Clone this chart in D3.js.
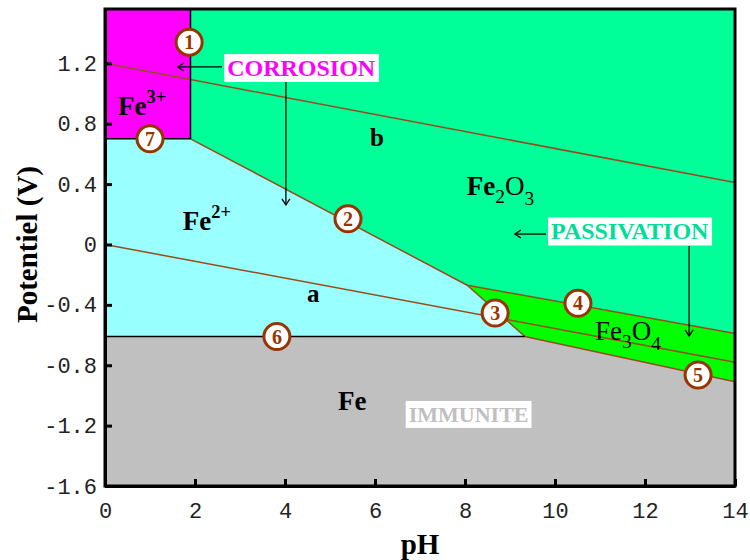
<!DOCTYPE html>
<html>
<head>
<meta charset="utf-8">
<script src="https://cdn.jsdelivr.net/npm/d3@7"></script>
<style>
  html, body { margin: 0; padding: 0; background: #ffffff; }
  svg { display: block; }
</style>
</head>
<body>
<svg id="chart" width="750" height="560"></svg>
<script>
// Pourbaix (potential–pH) diagram of iron in water

const phTicks = [0, 2, 4, 6, 8, 10, 12, 14];
const potentialTicks = [-1.6, -1.2, -0.8, -0.4, 0, 0.4, 0.8, 1.2];
const phDomain = [0, 14];
const potentialDomain = [-1.6, 1.56];

// Stability domains: [pH, E(V)] vertices
const fe3Region   = [[0, 1.56], [1.9, 1.56], [1.9, 0.70], [0, 0.70]];
const fe2o3Region = [[1.9, 1.56], [14, 1.56], [14, -0.59], [8.05, -0.27], [1.9, 0.70]];
const fe2Region   = [[0, 0.70], [1.9, 0.70], [8.05, -0.27], [9.33, -0.61], [0, -0.61]];
const fe3o4Region = [[8.05, -0.27], [14, -0.59], [14, -0.91], [9.33, -0.61]];
const feRegion    = [[0, -0.61], [9.33, -0.61], [14, -0.91], [14, -1.6], [0, -1.6]];

// Equilibrium boundaries
const line1 = [[1.9, 1.56], [1.9, 0.70]];                 // Fe3+ / Fe2O3
const line2 = [[1.9, 0.70], [8.05, -0.27]];               // Fe2O3 / Fe2+
const line3 = [[8.05, -0.27], [9.33, -0.61]];             // Fe3O4 / Fe2+
const line4 = [[8.05, -0.27], [14, -0.59]];               // Fe2O3 / Fe3O4
const line5 = [[9.33, -0.61], [14, -0.91]];               // Fe3O4 / Fe
const line6 = [[0, -0.61], [9.33, -0.61]];                // Fe2+ / Fe
const line7 = [[0, 0.70], [1.9, 0.70]];                   // Fe3+ / Fe2+
const waterLineA = [[0, 0.0], [14, -0.78]];               // H+ / H2
const waterLineB = [[0, 1.20], [14, 0.41]];               // O2 / H2O

// Numbered equilibrium markers
const markerIds = ["1", "2", "3", "4", "5", "6", "7"];
const markerPH  = [1.87, 5.4, 8.67, 10.51, 13.18, 3.82, 1.0];
const markerE   = [1.34, 0.17, -0.454, -0.39, -0.865, -0.61, 0.70];

const svg = d3.select("#chart");
const margin = { left: 105, top: 9, right: 15, bottom: 74 };
const W = 750 - margin.left - margin.right;
const H = 560 - margin.top - margin.bottom;

const x = d3.scaleLinear().domain(phDomain).range([0, W]);
const y = d3.scaleLinear().domain(potentialDomain).range([H, 0]);

const g = svg.append("g").attr("transform", `translate(${margin.left},${margin.top})`);

const line = d3.line().x(d => x(d[0])).y(d => y(d[1]));
const poly = pts => line(pts) + "Z";

const serif = "'Liberation Serif', 'Times New Roman', serif";
const brown = "#993300";
const lineBrown = "#9a4a1c";

// Regions
const regions = [
  { pts: fe3Region,   fill: "#ff00ff" },
  { pts: fe2o3Region, fill: "#00ff99" },
  { pts: fe2Region,   fill: "#99ffff" },
  { pts: fe3o4Region, fill: "#00ff00" },
  { pts: feRegion,    fill: "#c0c0c0" }
];
g.selectAll("path.region").data(regions).join("path")
  .attr("class", "region")
  .attr("d", d => poly(d.pts))
  .attr("fill", d => d.fill)
  .attr("stroke", "none");

// Boundary lines
const boundaries = [
  { pts: waterLineA, color: lineBrown, w: 1.5 },
  { pts: waterLineB, color: lineBrown, w: 1.5 },
  { pts: line2, color: lineBrown, w: 1.5 },
  { pts: line3, color: lineBrown, w: 1.5 },
  { pts: line4, color: lineBrown, w: 1.5 },
  { pts: line5, color: lineBrown, w: 1.5 },
  { pts: line1, color: "#000000", w: 1.5 },
  { pts: line6, color: "#000000", w: 1.5 },
  { pts: line7, color: "#000000", w: 1.5 }
];
g.selectAll("path.boundary").data(boundaries).join("path")
  .attr("class", "boundary")
  .attr("d", d => line(d.pts))
  .attr("fill", "none")
  .attr("stroke", d => d.color)
  .attr("stroke-width", d => d.w);

// Axes
const fmt = d => String(d);
const yAxis = g.append("g")
  .call(d3.axisLeft(y).tickValues(potentialTicks).tickFormat(fmt)
    .tickSizeInner(-7).tickSizeOuter(0).tickPadding(8));
const xAxis = g.append("g").attr("transform", `translate(0,${H})`)
  .call(d3.axisBottom(x).tickValues(phTicks).tickFormat(fmt)
    .tickSizeInner(-7).tickSizeOuter(0).tickPadding(16));
[yAxis, xAxis].forEach(a => {
  a.select(".domain").attr("stroke", "#000").attr("stroke-width", 3);
  a.selectAll(".tick line").attr("stroke", "#000").attr("stroke-width", 3);
  a.selectAll(".tick text")
    .attr("font-family", "'Liberation Mono', 'DejaVu Sans Mono', monospace")
    .attr("font-size", 22).attr("fill", "#222");
});

// Frame
g.append("rect").attr("x", 0).attr("y", 0).attr("width", W).attr("height", H)
  .attr("fill", "none").attr("stroke", "#000").attr("stroke-width", 3);

// Axis titles
svg.append("text")
  .attr("transform", `translate(37,${margin.top + y(0)}) rotate(-90)`)
  .attr("text-anchor", "middle")
  .attr("font-family", serif).attr("font-weight", "bold").attr("font-size", 29)
  .text("Potentiel (V)");
svg.append("text")
  .attr("x", margin.left + x(7)).attr("y", 554)
  .attr("text-anchor", "middle")
  .attr("font-family", serif).attr("font-weight", "bold").attr("font-size", 29)
  .text("pH");

// Ion labels with a superscript charge
function ion(base, charge, ph, e, size) {
  const t = g.append("text")
    .attr("x", x(ph)).attr("y", y(e))
    .attr("font-family", serif).attr("font-weight", "bold")
    .attr("font-size", size).attr("fill", "#000");
  t.append("tspan").text(base);
  if (charge) t.append("tspan").text(charge)
    .attr("font-size", size * 0.68).attr("dy", -size * 0.45);
}
ion("Fe", "3+", 0.29, 0.858, 27);
ion("Fe", "2+", 1.73, 0.096, 27);
ion("Fe", null, 5.18, -1.097, 27);
ion("a", null, 4.49, -0.381, 25);
ion("b", null, 5.89, 0.652, 25);

// Oxide labels: Fe / sub / O / sub
function oxide(feBold, n1, n2, ph, e, size) {
  const t = g.append("text")
    .attr("x", x(ph)).attr("y", y(e))
    .attr("font-family", serif).attr("font-size", size).attr("fill", "#000");
  t.append("tspan").text("Fe").attr("font-weight", feBold ? "bold" : "normal");
  t.append("tspan").text(n1).attr("font-size", size * 0.72).attr("dy", size * 0.3);
  t.append("tspan").text("O").attr("dy", -size * 0.3);
  t.append("tspan").text(n2).attr("font-size", size * 0.72).attr("dy", size * 0.38);
}
oxide(true, "2", "3", 8.04, 0.328, 27);
oxide(false, "3", "4", 10.89, -0.633, 27);

// Arrow marker
svg.append("defs").append("marker")
  .attr("id", "arrow").attr("viewBox", "-8 -5 10 10")
  .attr("refX", 0).attr("refY", 0)
  .attr("markerWidth", 10).attr("markerHeight", 10)
  .attr("markerUnits", "userSpaceOnUse")
  .attr("orient", "auto")
  .append("path").attr("d", "M-6,-4 L0,0 L-6,4")
  .attr("fill", "none").attr("stroke", "#000").attr("stroke-width", 1.3);

function arrow(p0, p1) {
  g.append("line")
    .attr("x1", x(p0[0])).attr("y1", y(p0[1]))
    .attr("x2", x(p1[0])).attr("y2", y(p1[1]))
    .attr("stroke", "#000").attr("stroke-width", 1.3)
    .attr("marker-end", "url(#arrow)");
}

// Boxed annotations
function boxed(label, ph, e, color, size) {
  const grp = g.append("g");
  const t = grp.append("text")
    .attr("x", x(ph)).attr("y", y(e))
    .attr("text-anchor", "middle").attr("dominant-baseline", "central")
    .attr("font-family", serif).attr("font-weight", "bold")
    .attr("font-size", size).attr("fill", color)
    .text(label);
  const bb = t.node().getBBox();
  grp.insert("rect", "text")
    .attr("x", bb.x - 3).attr("y", bb.y - 1)
    .attr("width", bb.width + 6).attr("height", bb.height + 2)
    .attr("fill", "#ffffff");
}

arrow([2.6, 1.176], [1.62, 1.176]);
arrow([4.02, 1.26], [4.02, 0.262]);
boxed("CORROSION", 4.36, 1.169, "#ff00ff", 24);

arrow([9.8, 0.069], [9.11, 0.069]);
arrow([12.98, -0.01], [12.98, -0.606]);
boxed("PASSIVATION", 11.66, 0.086, "#00dd99", 24);

boxed("IMMUNITE", 8.08, -1.126, "#c0c0c0", 22);

// Numbered markers
const markers = markerIds.map((id, i) => ({ id, ph: markerPH[i], e: markerE[i] }));
const mk = g.selectAll("g.marker").data(markers).join("g")
  .attr("class", "marker")
  .attr("transform", d => `translate(${x(d.ph)},${y(d.e)})`);
mk.append("circle").attr("r", 13)
  .attr("fill", "#ffffff").attr("stroke", brown).attr("stroke-width", 3);
mk.append("text")
  .attr("text-anchor", "middle").attr("dominant-baseline", "central")
  .attr("font-family", serif).attr("font-weight", "bold").attr("font-size", 20)
  .attr("fill", brown)
  .text(d => d.id);
</script>
</body>
</html>
